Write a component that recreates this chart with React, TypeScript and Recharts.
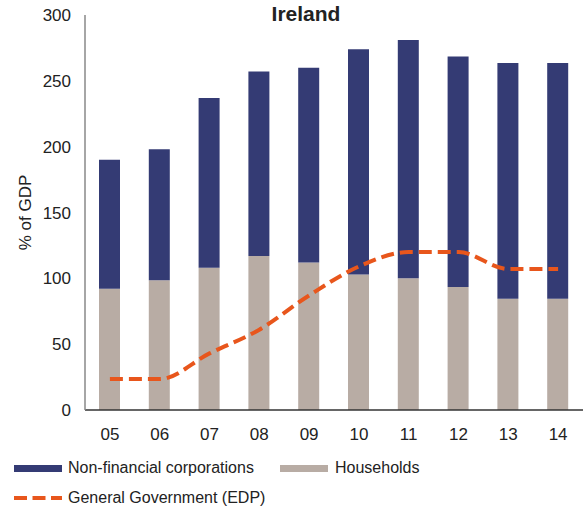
import React from "react";
import {
  Bar,
  ComposedChart,
  Line,
  XAxis,
  YAxis,
} from "recharts";

const years = ["05", "06", "07", "08", "09", "10", "11", "12", "13", "14"];
const households = [92, 98.5, 108, 117, 112, 103, 100, 93.5, 84.5, 84.5];
const nonFinancial = [98, 99.5, 129, 140, 148, 171, 181, 175, 179, 179];
const generalGov = [23.5, 23.5, 43, 61, 87, 109, 120, 120, 107, 107];
const yTicks = [0, 50, 100, 150, 200, 250, 300];

const NAVY = "#343b74";
const TAUPE = "#b8aca4";
const ORANGE = "#e8561c";
const FONT = "'Liberation Sans', Arial, sans-serif";

const data = years.map((y, i) => ({
  year: y,
  hh: households[i],
  nfc: nonFinancial[i],
  gg: generalGov[i],
}));

export default function App() {
  return (
    <div
      style={{
        position: "absolute",
        left: 0,
        top: 0,
        width: 583,
        height: 515,
        background: "#fff",
        fontFamily: FONT,
        color: "#222",
      }}
    >
      <div
        style={{
          position: "absolute",
          left: 256,
          width: 100,
          top: 2,
          textAlign: "center",
          fontWeight: 700,
          fontSize: 21,
        }}
      >
        Ireland
      </div>
      <ComposedChart
        width={583}
        height={448}
        data={data}
        margin={{ top: 15, right: 0, left: 0, bottom: 0 }}
        style={{ fontFamily: FONT }}
      >
        <XAxis
          dataKey="year"
          height={38}
          tickLine={false}
          tickSize={6}
          tickMargin={12}
          axisLine={{ stroke: "#333", strokeWidth: 1.5 }}
          tick={{ fill: "#222", fontSize: 17 }}
        />
        <YAxis
          width={85}
          domain={[0, 300]}
          ticks={yTicks}
          tickLine={false}
          tickSize={6}
          tickMargin={8}
          axisLine={{ stroke: "#888", strokeWidth: 1.5 }}
          tick={{ fill: "#222", fontSize: 17 }}
          label={{
            value: "% of GDP",
            angle: -90,
            position: "insideLeft",
            offset: 25,
            style: { textAnchor: "middle", fontSize: 17, fill: "#222" },
          }}
        />
        <Bar dataKey="hh" stackId="a" fill={TAUPE} barSize={21} isAnimationActive={false} />
        <Bar dataKey="nfc" stackId="a" fill={NAVY} barSize={21} isAnimationActive={false} />
        <Line
          dataKey="gg"
          type="monotone"
          stroke={ORANGE}
          strokeWidth={4}
          strokeDasharray="13 6"
          dot={false}
          activeDot={false}
          isAnimationActive={false}
        />
      </ComposedChart>
      <div style={{ position: "absolute", left: 14, top: 459, fontSize: 16, display: "flex", alignItems: "center" }}>
        <div style={{ width: 48, height: 7, background: NAVY, marginRight: 6 }} />
        <span>Non-financial corporations</span>
      </div>
      <div style={{ position: "absolute", left: 280, top: 459, fontSize: 16, display: "flex", alignItems: "center" }}>
        <div style={{ width: 48, height: 7, background: TAUPE, marginRight: 7 }} />
        <span>Households</span>
      </div>
      <div style={{ position: "absolute", left: 14, top: 489, fontSize: 16, display: "flex", alignItems: "center" }}>
        <svg width={48} height={8} style={{ marginRight: 6 }}>
          <line x1={0} y1={4} x2={48} y2={4} stroke={ORANGE} strokeWidth={4} strokeDasharray="13 5.5" />
        </svg>
        <span>General Government (EDP)</span>
      </div>
    </div>
  );
}
